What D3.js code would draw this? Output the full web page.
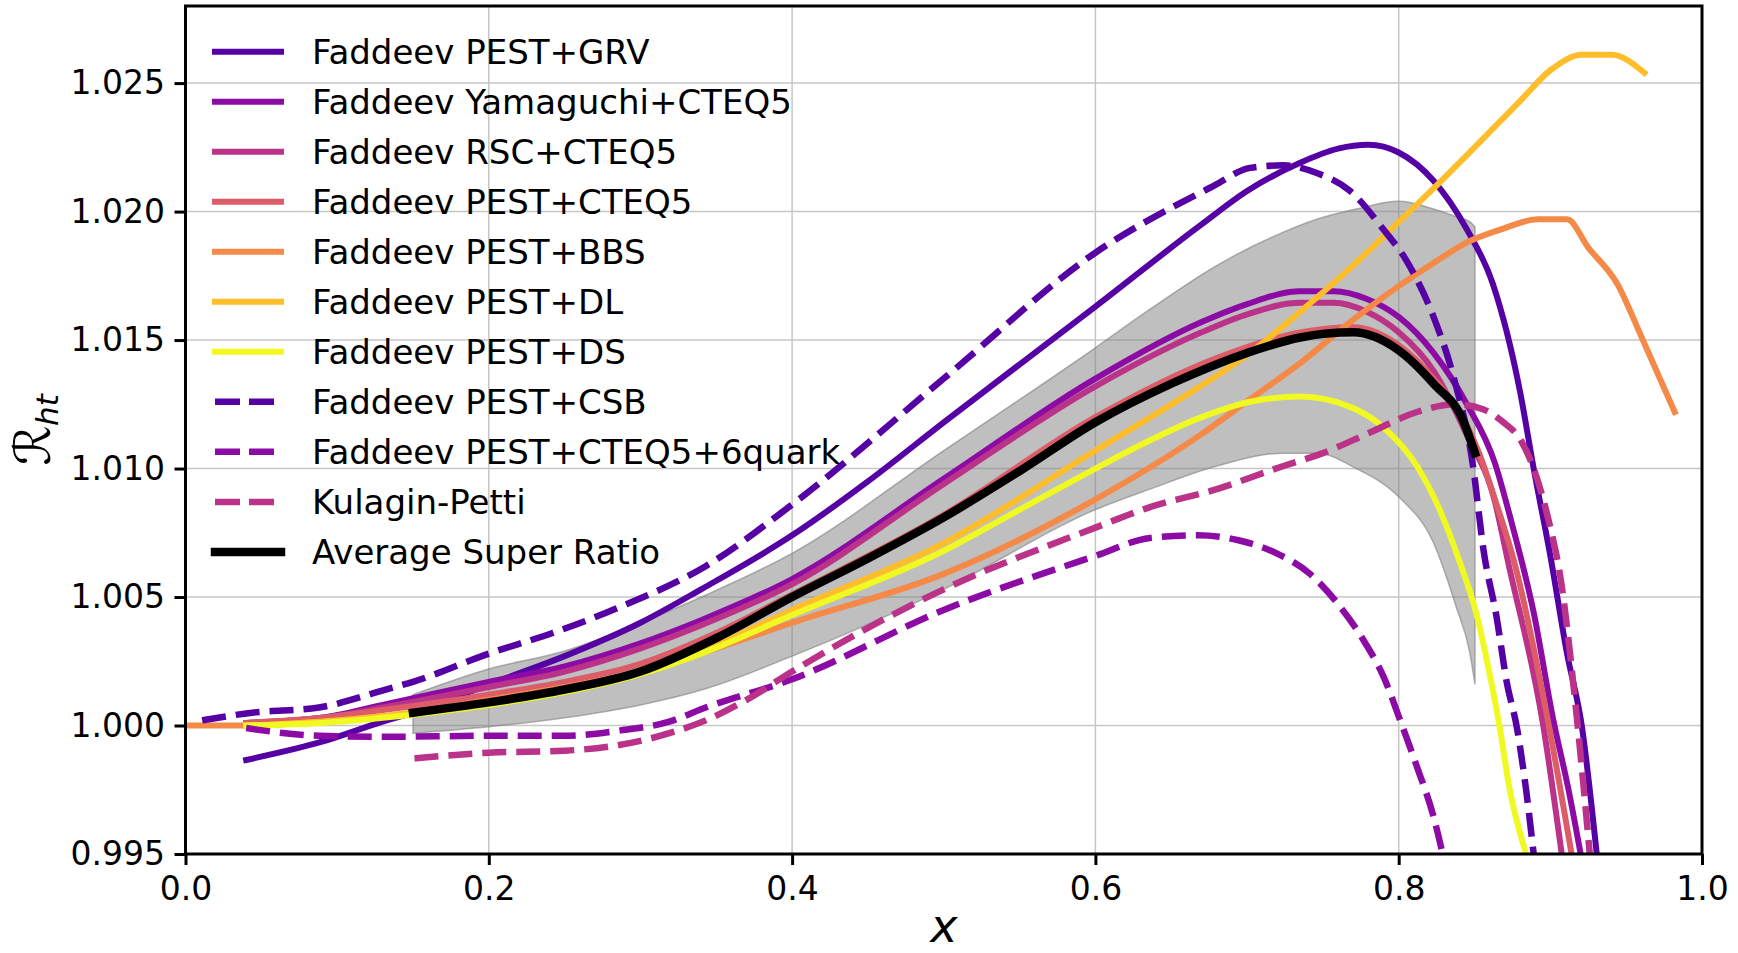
<!DOCTYPE html>
<html>
<head>
<meta charset="utf-8">
<script src="https://cdn.jsdelivr.net/npm/d3@7"></script>
<style>
  body { margin: 0; background: #fff; }
  text { font-family: "DejaVu Sans", sans-serif; fill: #000; }
</style>
</head>
<body>
<script>
// ---- data: [x, R_ht] ----
const pestGRV = [[0.04,0.99866],[0.09,0.99937],[0.13,1.00015],[0.15,1.0005],[0.2,1.0016],[0.25,1.0027],[0.3,1.0040],[0.34,1.0053],[0.4,1.0074],[0.45,1.0095],[0.5,1.0118],[0.6,1.0163],[0.67,1.0195],[0.70,1.0208],[0.735,1.0219],[0.76,1.02245],[0.78,1.0226],[0.80,1.0223],[0.823,1.0212],[0.845,1.0193],[0.862,1.0172],[0.88,1.0130],[0.889,1.0100],[0.90,1.0066],[0.911,1.0028],[0.9207,1.0000],[0.9306,0.9950]];
const yamaguchiCTEQ5 = [[0.04,1.0001],[0.09,1.0003],[0.13,1.0008],[0.2,1.0017],[0.25,1.0023],[0.3,1.0032],[0.34,1.0041],[0.4,1.0057],[0.5,1.0096],[0.6,1.0135],[0.67,1.0157],[0.70,1.0164],[0.735,1.0169],[0.757,1.0169],[0.779,1.0166],[0.80,1.0159],[0.823,1.0145],[0.845,1.0125],[0.8635,1.0102],[0.874,1.0080],[0.889,1.0044],[0.902,1.0002],[0.912,0.9975],[0.920,0.9950]];
const rscCTEQ5 = [[0.04,1.0001],[0.09,1.0003],[0.13,1.0007],[0.2,1.0015],[0.25,1.0021],[0.3,1.0030],[0.34,1.0039],[0.4,1.0055],[0.5,1.0094],[0.6,1.0132],[0.67,1.0153],[0.70,1.0160],[0.735,1.01645],[0.757,1.01645],[0.779,1.0161],[0.80,1.0153],[0.823,1.0138],[0.845,1.0113],[0.8635,1.0087],[0.872,1.0064],[0.8953,1.0000],[0.9075,0.9950]];
const pestCTEQ5 = [[0.04,1.0001],[0.09,1.0003],[0.13,1.0006],[0.2,1.0012],[0.25,1.0017],[0.3,1.0024],[0.35,1.0036],[0.4,1.0051],[0.5,1.0082],[0.6,1.0120],[0.68,1.0143],[0.735,1.0153],[0.77,1.0155],[0.8,1.0148],[0.823,1.0135],[0.843,1.0119],[0.853,1.0106],[0.864,1.0087],[0.876,1.0064],[0.899,1.0000],[0.914,0.9950]];
const pestBBS = [[0.0,1.0000],[0.04,1.0000],[0.1,1.0002],[0.15,1.0005],[0.2,1.0010],[0.25,1.0015],[0.3,1.0021],[0.35,1.0030],[0.4,1.0040],[0.5,1.0059],[0.6,1.0088],[0.669,1.0113],[0.702,1.0127],[0.735,1.0141],[0.768,1.0157],[0.80,1.0171],[0.823,1.0180],[0.845,1.0188],[0.867,1.0193],[0.892,1.0197],[0.911,1.0197],[0.925,1.0186],[0.944,1.0172],[0.961,1.0150],[0.982,1.0122]];
const pestDL = [[0.04,1.0000],[0.1,1.0002],[0.15,1.0005],[0.2,1.0009],[0.25,1.0014],[0.3,1.0021],[0.34,1.0029],[0.4,1.0045],[0.5,1.0071],[0.6,1.0107],[0.669,1.0132],[0.702,1.0145],[0.735,1.0161],[0.768,1.0178],[0.8,1.0196],[0.823,1.0209],[0.845,1.0222],[0.88,1.0243],[0.90,1.0255],[0.921,1.0261],[0.9405,1.0261],[0.962,1.0254]];
const pestDS = [[0.04,1.0000],[0.09,1.0001],[0.13,1.0003],[0.2,1.0008],[0.25,1.0013],[0.3,1.0020],[0.34,1.0028],[0.4,1.0043],[0.5,1.0068],[0.55,1.0084],[0.6,1.0100],[0.636,1.0111],[0.67,1.0120],[0.702,1.0126],[0.735,1.0128],[0.768,1.0124],[0.79,1.0116],[0.812,1.0101],[0.827,1.0084],[0.840,1.0064],[0.851,1.0044],[0.860,1.0020],[0.867,0.9998],[0.8723,0.9978],[0.884,0.9950]];
const pestCSB = [[0.011,1.0002],[0.044,1.0005],[0.088,1.0007],[0.132,1.0014],[0.15,1.0017],[0.2,1.0028],[0.242,1.0036],[0.286,1.0046],[0.343,1.0062],[0.4,1.0086],[0.5,1.0135],[0.6,1.0184],[0.678,1.0210],[0.702,1.0217],[0.724,1.0218],[0.746,1.0215],[0.768,1.0208],[0.79,1.0193],[0.805,1.0181],[0.823,1.0159],[0.836,1.0136],[0.849,1.0101],[0.856,1.0068],[0.8646,1.0042],[0.8712,1.0017],[0.878,0.9999],[0.884,0.9975],[0.889,0.9950]];
const sixQuark = [[0.04,0.9999],[0.088,0.9996],[0.132,0.99956],[0.2,0.9996],[0.25,0.9996],[0.286,0.9998],[0.319,1.00015],[0.343,1.0007],[0.4,1.0018],[0.5,1.0045],[0.6,1.0066],[0.636,1.0073],[0.667,1.0074],[0.695,1.0072],[0.7195,1.0067],[0.7415,1.0059],[0.759,1.0048],[0.777,1.0033],[0.790,1.0019],[0.801,1.0002],[0.812,0.9984],[0.823,0.99645],[0.829,0.9950]];
const kulaginPetti = [[0.151,0.99872],[0.2,0.99894],[0.25,0.99902],[0.286,0.99924],[0.319,0.9997],[0.343,1.0002],[0.37,1.0010],[0.4,1.0021],[0.45,1.0038],[0.5,1.0053],[0.6,1.0077],[0.636,1.0085],[0.68,1.0092],[0.724,1.0101],[0.75,1.0106],[0.781,1.0114],[0.812,1.0122],[0.838,1.0125],[0.856,1.0123],[0.869,1.0118],[0.8805,1.0111],[0.889,1.0100],[0.900,1.0077],[0.906,1.0060],[0.918,1.0000],[0.926,0.9950]];
const averageRatio = [[0.15,1.0005],[0.2,1.0009],[0.25,1.0014],[0.3,1.0021],[0.35,1.0034],[0.4,1.0050],[0.45,1.0065],[0.5,1.0081],[0.55,1.0099],[0.6,1.0118],[0.65,1.0133],[0.7,1.0145],[0.735,1.0151],[0.77,1.0153],[0.8,1.0146],[0.823,1.0133],[0.843,1.0118],[0.8503,1.0106]];

// error band of the average
const bandX  = [0.15, 0.2, 0.25, 0.3, 0.344, 0.4, 0.5, 0.6, 0.636, 0.68, 0.724, 0.746, 0.772, 0.8, 0.823, 0.838, 0.847, 0.8503];
const bandLo = [0.9997, 0.99995, 1.0003, 1.0008, 1.00145, 1.0027, 1.0053, 1.0084, 1.0092, 1.0101, 1.0106, 1.0106, 1.0100, 1.0089, 1.0071, 1.0046, 1.0028, 1.0016];
const bandHi = [1.0012, 1.0022, 1.0029, 1.0040, 1.0051, 1.0067, 1.0107, 1.0147, 1.0162, 1.0179, 1.0192, 1.0197, 1.0201, 1.0204, 1.0201, 1.0198, 1.0196, 1.0194];

const labels = ["Faddeev PEST+GRV", "Faddeev Yamaguchi+CTEQ5", "Faddeev RSC+CTEQ5", "Faddeev PEST+CTEQ5",
  "Faddeev PEST+BBS", "Faddeev PEST+DL", "Faddeev PEST+DS", "Faddeev PEST+CSB",
  "Faddeev PEST+CTEQ5+6quark", "Kulagin-Petti", "Average Super Ratio"];
const xTicks = [0.0, 0.2, 0.4, 0.6, 0.8, 1.0];
const yTicks = [0.995, 1.000, 1.005, 1.010, 1.015, 1.020, 1.025];

// plasma colours, 7 evenly spaced
let pal = d3.range(7).map(i => d3.interpolatePlasma(0.15 + i * 0.85 / 6));

let series = [
  { data: pestGRV, color: pal[0] },
  { data: yamaguchiCTEQ5, color: pal[1] },
  { data: rscCTEQ5, color: pal[2] },
  { data: pestCTEQ5, color: pal[3] },
  { data: pestBBS, color: pal[4] },
  { data: pestDL, color: pal[5] },
  { data: pestDS, color: pal[6] },
  { data: pestCSB, color: pal[0], dashed: true },
  { data: sixQuark, color: pal[1], dashed: true },
  { data: kulaginPetti, color: pal[2], dashed: true },
  { data: averageRatio, color: "#000", black: true }
];
series.forEach((s, i) => s.name = labels[i]);

const W = 1738, H = 953;
let margin = { top: 6, right: 36, bottom: 99, left: 185.5 };

let x = d3.scaleLinear().domain([0, 1]).range([margin.left, W - margin.right]);
let y = d3.scaleLinear().domain([0.995, 1.028]).range([H - margin.bottom, margin.top]);

let svg = d3.select("body").append("svg")
  .attr("width", W)
  .attr("height", H);

svg.append("defs").append("clipPath").attr("id", "plot")
  .append("rect")
  .attr("x", x(0)).attr("y", y(1.028))
  .attr("width", x(1) - x(0)).attr("height", y(0.995) - y(1.028));

// grid
let grid = svg.append("g");
grid.selectAll(".gx").data(xTicks).enter().append("line")
  .attr("x1", d => x(d)).attr("x2", d => x(d))
  .attr("y1", y(0.995)).attr("y2", y(1.028))
  .attr("stroke", "#c6c6c6").attr("stroke-width", 1.5);
grid.selectAll(".gy").data(yTicks).enter().append("line")
  .attr("x1", x(0)).attr("x2", x(1))
  .attr("y1", d => y(d)).attr("y2", d => y(d))
  .attr("stroke", "#c6c6c6").attr("stroke-width", 1.5);

let plot = svg.append("g").attr("clip-path", "url(#plot)");

// band
let bandData = bandX.map((v, i) => [v, bandLo[i], bandHi[i]]);
let area = d3.area()
  .x(d => x(d[0]))
  .y0(d => y(d[1]))
  .y1(d => y(d[2]))
  .curve(d3.curveMonotoneX);
plot.append("path")
  .attr("d", area(bandData))
  .attr("fill", "#808080").attr("fill-opacity", 0.5)
  .attr("stroke", "#808080").attr("stroke-opacity", 0.6).attr("stroke-width", 1.5);

let line = d3.line()
  .x(d => x(d[0]))
  .y(d => y(d[1]))
  .curve(d3.curveMonotoneX);

function lineWidth(s) { return s.black ? 8.5 : (s.dashed ? 6.5 : 6); }

plot.selectAll(".series").data(series).enter().append("path")
  .attr("d", d => line(d.data))
  .attr("fill", "none")
  .attr("stroke", d => d.color)
  .attr("stroke-width", lineWidth)
  .attr("stroke-linejoin", "round")
  .attr("stroke-linecap", d => d.dashed ? "butt" : "square")
  .attr("stroke-dasharray", d => d.dashed ? "24,10" : null);

// axes
let xAxis = svg.append("g")
  .attr("transform", "translate(0," + y(0.995) + ")")
  .call(d3.axisBottom(x).tickValues(xTicks).tickFormat(d3.format(".1f")).tickSize(11).tickPadding(11.5));
let yAxis = svg.append("g")
  .attr("transform", "translate(" + x(0) + ",0)")
  .call(d3.axisLeft(y).tickValues(yTicks).tickFormat(d3.format(".3f")).tickSize(11).tickPadding(9.5));
[xAxis, yAxis].forEach(a => {
  a.select(".domain").remove();
  a.selectAll(".tick line").attr("stroke", "#000").attr("stroke-width", 3);
  a.selectAll(".tick text").attr("font-size", 33).attr("font-family", "DejaVu Sans").attr("fill", "#000");
});

// frame
svg.append("rect")
  .attr("x", x(0)).attr("y", y(1.028))
  .attr("width", x(1) - x(0)).attr("height", y(0.995) - y(1.028))
  .attr("fill", "none").attr("stroke", "#000").attr("stroke-width", 3);

// axis labels
svg.append("text")
  .attr("x", x(0.5)).attr("y", 942)
  .attr("text-anchor", "middle")
  .attr("font-size", 46).attr("font-style", "italic")
  .text("x");

let yl = svg.append("text")
  .attr("transform", "translate(50," + ((y(0.995) + y(1.028)) / 2) + ") rotate(-90)")
  .attr("text-anchor", "middle")
  .attr("font-size", 50);
yl.append("tspan").text("ℛ");
yl.append("tspan").attr("font-size", 31).attr("font-style", "italic").attr("dy", 8).text("ht");

// legend
let legend = svg.append("g");
let rows = legend.selectAll(".row").data(series).enter().append("g")
  .attr("transform", (d, i) => "translate(0," + (51.7 + i * 50.02) + ")");
rows.append("line")
  .attr("x1", 215).attr("x2", 281)
  .attr("stroke", d => d.color)
  .attr("stroke-width", lineWidth)
  .attr("stroke-linecap", d => d.dashed ? "butt" : "square")
  .attr("stroke-dasharray", d => d.dashed ? "25,9" : null);
rows.append("text")
  .attr("x", 312).attr("y", 12)
  .attr("font-size", 34)
  .text(d => d.name);
</script>
</body>
</html>
